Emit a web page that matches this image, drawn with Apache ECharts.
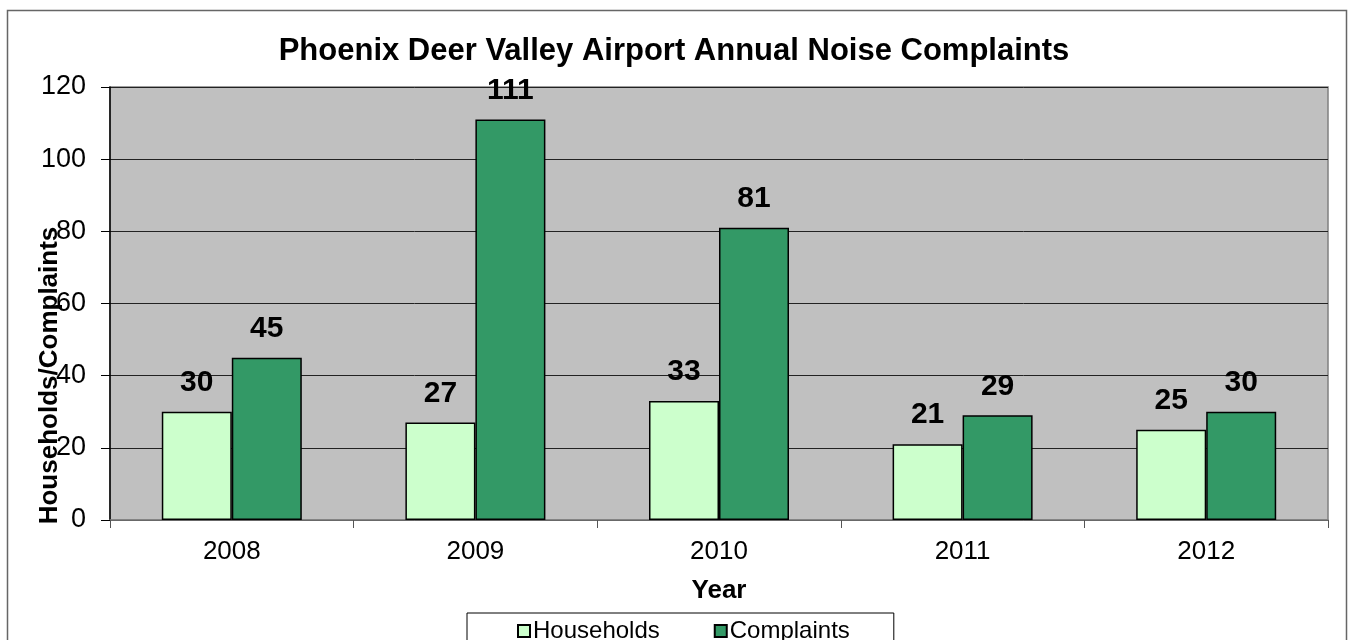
<!DOCTYPE html>
<html>
<head>
<meta charset="utf-8">
<style>html,body{margin:0;padding:0;background:#fff;}#c{width:1348px;height:640px;}</style>
<script src="https://cdn.jsdelivr.net/npm/echarts@6/dist/echarts.min.js"></script>
</head>
<body>
<div id="c"></div>
<script>
const categories = ['2008', '2009', '2010', '2011', '2012'];
const households = [30, 27, 33, 21, 25];
const complaints = [45, 111, 81, 29, 30];
const yTicks = { min: 0, max: 120, interval: 20 };

const chart = echarts.init(document.getElementById('c'));
const FONT = 'Liberation Sans, Arial, sans-serif';
chart.setOption({
  animation: false,
  backgroundColor: '#fff',
  textStyle: { fontFamily: FONT },
  graphic: [{
    type: 'rect', z: -1, silent: true,
    shape: { x: 7.5, y: 10.5, width: 1339, height: 640 },
    style: { fill: 'none', stroke: '#666', lineWidth: 1.5 }
  }],
  title: {
    text: 'Phoenix Deer Valley Airport Annual Noise Complaints',
    left: 'center', top: 31,
    textStyle: { fontFamily: FONT, fontSize: 31, fontWeight: 'bold', color: '#000' }
  },
  legend: {
    left: 467, top: 613,
    padding: [6, 44, 20, 50],
    borderColor: '#000', borderWidth: 1,
    itemWidth: 12, itemHeight: 12, itemGap: 54,
    icon: 'rect',
    textStyle: { fontFamily: FONT, fontSize: 24, color: '#000', padding: [0, 0, 0, -2] },
    data: ['Households', 'Complaints']
  },
  grid: { left: 110, right: 20, top: 87, bottom: 120, outerBoundsMode: 'none', containLabel: false, show: true, backgroundColor: '#C0C0C0', borderColor: '#808080', borderWidth: 1.5 },
  xAxis: {
    type: 'category', data: categories,
    name: 'Year', nameLocation: 'middle', nameGap: 58,
    nameTextStyle: { fontFamily: FONT, fontSize: 26, fontWeight: 'bold', color: '#000' },
    axisLine: { lineStyle: { color: '#808080', width: 1.5 } },
    axisTick: { show: true, alignWithLabel: false, length: 8, lineStyle: { color: '#555' } },
    axisLabel: { fontFamily: FONT, fontSize: 26, color: '#000', margin: 19 }
  },
  yAxis: {
    type: 'value', min: yTicks.min, max: yTicks.max, interval: yTicks.interval,
    name: 'Households/Complaints', nameLocation: 'middle', nameGap: 47, nameMoveOverlap: false,
    nameTextStyle: { fontFamily: FONT, fontSize: 26, fontWeight: 'bold', color: '#000', padding: [0, 144, 0, 0] },
    axisLine: { show: true, lineStyle: { color: '#000', width: 1.5 } },
    axisTick: { show: true, length: 9, lineStyle: { color: '#000' } },
    axisLabel: { fontFamily: FONT, fontSize: 27, color: '#000', margin: 24 },
    splitLine: { lineStyle: { color: '#222', width: 1 } }
  },
  series: [{
    name: 'Households', type: 'bar', data: households,
    barWidth: 70, barGap: '0%',
    itemStyle: { color: '#CCFFCC', borderColor: '#000', borderWidth: 1.5 },
    label: { show: true, position: 'top', distance: 14, fontFamily: FONT, fontSize: 30, fontWeight: 'bold', color: '#000' }
  }, {
    name: 'Complaints', type: 'bar', data: complaints,
    barWidth: 70, barGap: '0%',
    itemStyle: { color: '#339966', borderColor: '#000', borderWidth: 1.5 },
    label: { show: true, position: 'top', distance: 14, fontFamily: FONT, fontSize: 30, fontWeight: 'bold', color: '#000' }
  }]
});
</script>
</body>
</html>
